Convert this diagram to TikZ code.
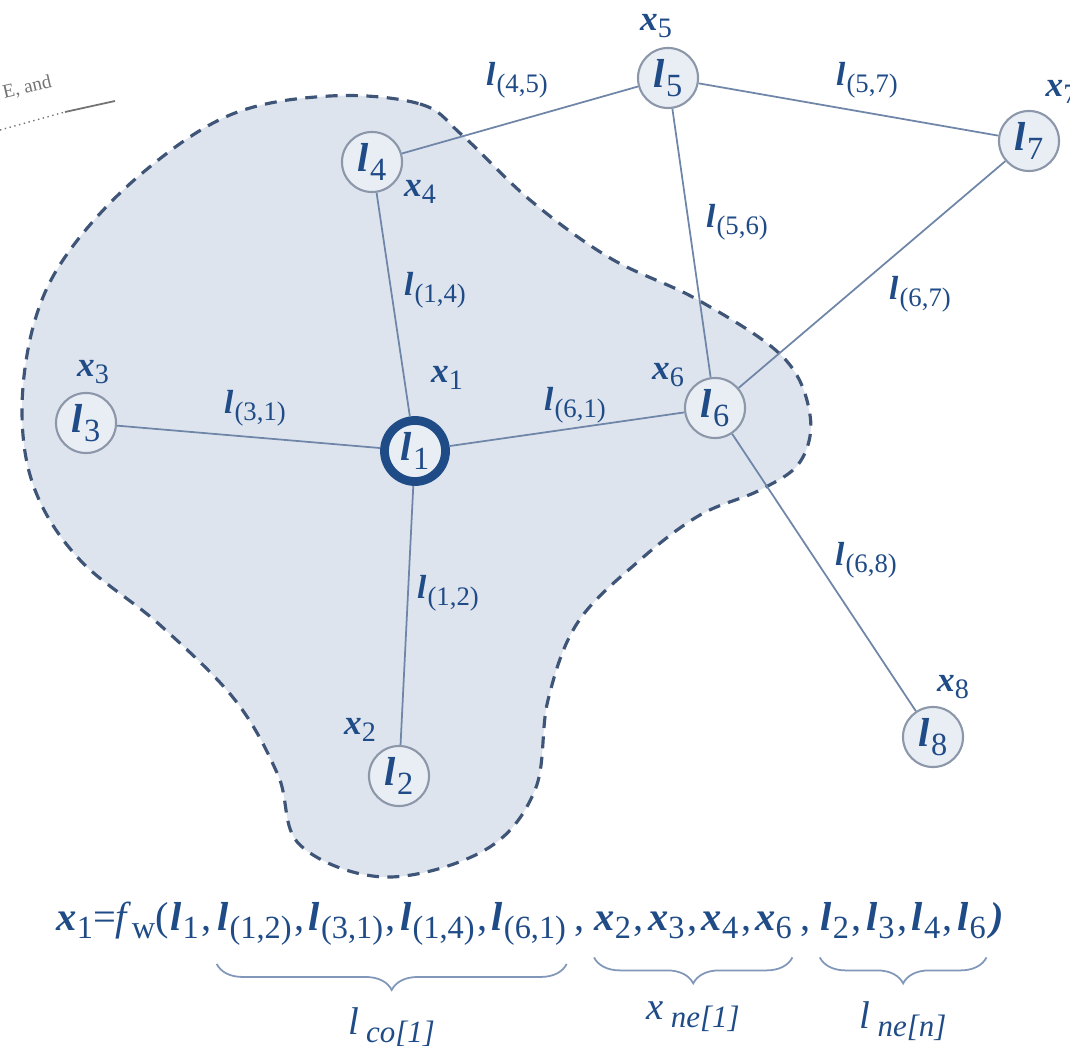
\documentclass[tikz,border=0pt]{standalone}
\usepackage{fontspec}
\setmainfont{Liberation Serif}
\usetikzlibrary{decorations.pathreplacing}
\definecolor{labelblue}{HTML}{1F4B87}
\definecolor{linkblue}{HTML}{6F86A8}
\definecolor{nodegrey}{HTML}{8C97AA}
\definecolor{nodefill}{HTML}{E9EDF4}
\definecolor{regionfill}{HTML}{DDE4EE}
\definecolor{regionedge}{HTML}{3F5577}
\definecolor{bracegrey}{HTML}{8197B9}
\newcommand{\low}[1]{\raisebox{-.45ex}{\scalebox{.8}{#1}}}
\newcommand{\lv}[1]{\textbf{\textit{l}}\kern.3pt\low{#1}}
\newcommand{\xv}[1]{\textbf{\textit{x}}\low{#1}}
\newcommand{\sep}{\kern.8pt,\kern1.2pt}
\tikzset{unit/.style={circle,draw=nodegrey,fill=nodefill,line width=.6pt,minimum size=6mm,inner sep=0pt,text=labelblue,font=\fontsize{11.5}{13}\selectfont},
  centreunit/.style={unit,draw=labelblue,line width=2.5pt,minimum size=6.1mm},
  link/.style={draw=linkblue,line width=.5pt},
  linklabel/.style={text=labelblue,inner sep=0pt,font=\fontsize{9.5}{11}\selectfont},
  statelabel/.style={text=labelblue,inner sep=0pt,font=\fontsize{10}{12}\selectfont},
  region/.style={fill=regionfill,draw=regionedge,dash pattern=on 3.4pt off 2.4pt,line width=.9pt},
  formula/.style={text=labelblue,inner sep=0pt,anchor=base west,font=\fontsize{11.5}{14}\selectfont},
  underbrace/.style={decorate,decoration={brace,mirror,amplitude=2.6mm},draw=bracegrey,line width=.5pt},
  bracelabel/.style={text=labelblue,inner sep=0pt,anchor=north,font=\fontsize{11}{13}\selectfont}}
\begin{document}
\begin{tikzpicture}[x=.01cm,y=-.01cm]
\useasboundingbox (0,0) rectangle (1070,1046);
\draw[region] plot[smooth cycle,tension=.6] coordinates {(330,96) (420,104) (462,135) (530,200) (610,258) (698,300) (783,357) (810,415) (800,462) (760,490) (700,515) (640,560) (578,622) (548,700) (535,790) (485,850) (385,877) (300,845) (278,775) (235,700) (160,625) (80,560) (35,490) (22,410) (35,320) (70,250) (140,175) (230,115)};
\node[text=black!55,rotate=13,inner sep=0pt,anchor=east,font=\fontsize{5.5}{6}\selectfont] (scrap) at (52,82) {E, and};
\coordinate (scrapa) at (0,130); \coordinate (scrapb) at (65,112); \coordinate (scrapc) at (115,101);
\draw[black!55,densely dotted,line width=.4pt] (scrapa) -- (scrapb);
\draw[black!55,line width=.5pt] (scrapb) -- (scrapc);
\node[centreunit] (n1) at (415,451) {\lv{1}};
\node[unit] (n2) at (399,776) {\lv{2}};
\node[unit] (n3) at (86,423) {\lv{3}};
\node[unit] (n4) at (372,162) {\lv{4}};
\node[unit] (n5) at (668,78) {\lv{5}};
\node[unit] (n6) at (715,408) {\lv{6}};
\node[unit] (n7) at (1029,141) {\lv{7}};
\node[unit] (n8) at (933,737) {\lv{8}};
\draw[link] (n1) -- (n2);
\draw[link] (n3) -- (n1);
\draw[link] (n1) -- (n4);
\draw[link] (n6) -- (n1);
\draw[link] (n4) -- (n5);
\draw[link] (n5) -- (n6);
\draw[link] (n5) -- (n7);
\draw[link] (n6) -- (n7);
\draw[link] (n6) -- (n8);
\node[statelabel] (s1) at (447,378) {\xv{1}};
\node[statelabel] (s2) at (360,730) {\xv{2}};
\node[statelabel] (s3) at (93,372) {\xv{3}};
\node[statelabel] (s4) at (420,192) {\xv{4}};
\node[statelabel] (s5) at (656,26) {\xv{5}};
\node[statelabel] (s6) at (668,375) {\xv{6}};
\node[statelabel,anchor=west] (s7) at (1045,92) {\xv{7}};
\node[statelabel] (s8) at (953,687) {\xv{8}};
\node[linklabel] (e45) at (517,80) {\lv{(4,5)}};
\node[linklabel] (e57) at (867,80) {\lv{(5,7)}};
\node[linklabel] (e56) at (737,222) {\lv{(5,6)}};
\node[linklabel] (e14) at (435,290) {\lv{(1,4)}};
\node[linklabel] (e67) at (920,294) {\lv{(6,7)}};
\node[linklabel] (e31) at (255,408) {\lv{(3,1)}};
\node[linklabel] (e61) at (575,405) {\lv{(6,1)}};
\node[linklabel] (e12) at (448,593) {\lv{(1,2)}};
\node[linklabel] (e68) at (866,560) {\lv{(6,8)}};
\node[formula] (f0) at (56,930) {\xv{1}=\textit{f}\low{w}(\kern.5pt\lv{1}\sep};
\node[formula] (f1) at (f0.base east) {\lv{(1,2)}\sep\lv{(3,1)}\sep\lv{(1,4)}\sep\lv{(6,1)}};
\node[formula] (f2) at (f1.base east) {\kern2pt,\kern2.5pt};
\node[formula] (f3) at (f2.base east) {\xv{2}\sep\xv{3}\sep\xv{4}\sep\xv{6}};
\node[formula] (f4) at (f3.base east) {\kern2pt,\kern2.5pt};
\node[formula] (f5) at (f4.base east) {\lv{2}\sep\lv{3}\sep\lv{4}\sep\lv{6}};
\node[formula] (f6) at (f5.base east) {\kern1pt\textbf{\textit{)}}};
\draw[underbrace] ([yshift=-1.8mm]f1.south west) -- ([yshift=-1.8mm]f1.south east) node[bracelabel,midway,yshift=-4.3mm] (b1) {\textit{l}\kern2pt\low{\textit{co[1]}}};
\draw[underbrace] ([yshift=-1.8mm]f3.south west) -- ([yshift=-1.8mm]f3.south east) node[bracelabel,midway,yshift=-4.3mm] (b2) {\textit{x}\kern2pt\low{\textit{ne[1]}}};
\draw[underbrace] ([yshift=-1.8mm]f5.south west) -- ([yshift=-1.8mm]f5.south east) node[bracelabel,midway,yshift=-4.3mm] (b3) {\textit{l}\kern2pt\low{\textit{ne[n]}}};
\end{tikzpicture}
\end{document}
